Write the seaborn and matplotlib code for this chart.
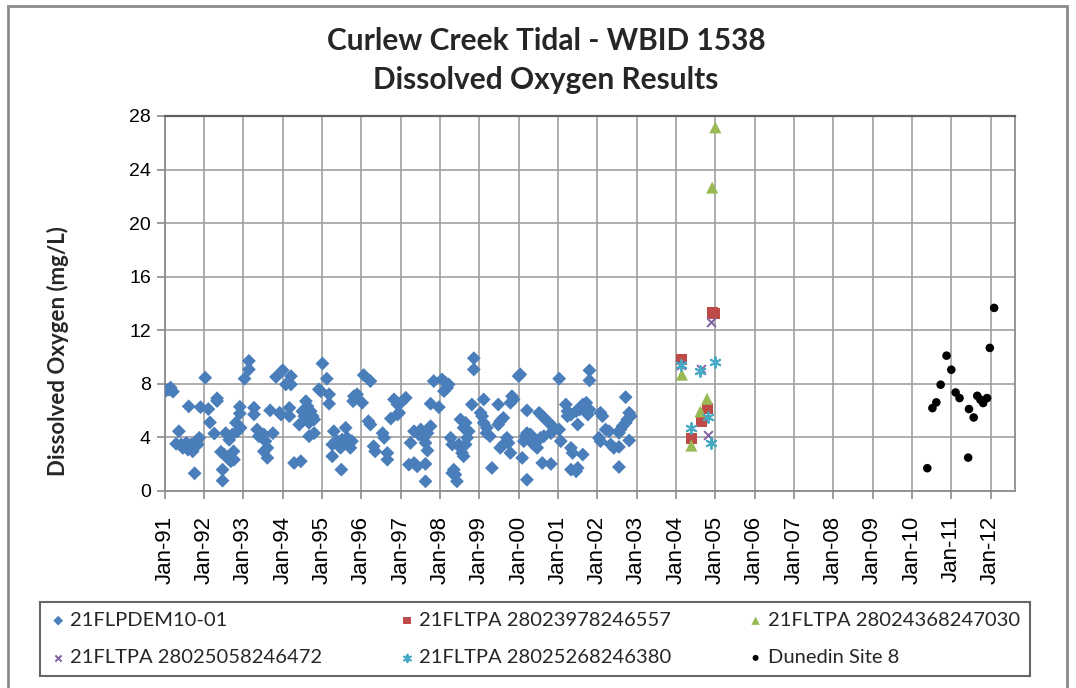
import matplotlib
matplotlib.use("Agg")
import matplotlib.pyplot as plt
import seaborn as sns
import pandas as pd
from matplotlib.patches import Rectangle

# ---------------- data ----------------
blue_year = [
    1991.04, 1991.10, 1991.15, 1991.21, 1991.29, 1991.36, 1991.42, 1991.46, 1991.55, 1991.59,
    1991.61, 1991.67, 1991.71, 1991.76, 1991.80, 1991.84, 1991.88, 1991.91,
    1992.03, 1992.11, 1992.15, 1992.26, 1992.33, 1992.33, 1992.43, 1992.47, 1992.47, 1992.51,
    1992.55, 1992.60, 1992.64, 1992.68, 1992.72, 1992.75, 1992.76, 1992.81, 1992.85, 1992.91,
    1992.91, 1992.93,
    1993.03, 1993.14, 1993.14, 1993.27, 1993.27, 1993.35, 1993.39, 1993.52, 1993.52, 1993.56,
    1993.61, 1993.61, 1993.68, 1993.75, 1993.83, 1993.92, 1993.96,
    1994.00, 1994.08, 1994.17, 1994.17, 1994.21, 1994.21, 1994.29, 1994.42, 1994.46, 1994.50,
    1994.55, 1994.59, 1994.63, 1994.67, 1994.67, 1994.71, 1994.76, 1994.80, 1994.80, 1994.92,
    1994.97,
    1995.01, 1995.12, 1995.18, 1995.18, 1995.26, 1995.26, 1995.30, 1995.39, 1995.47, 1995.49,
    1995.51, 1995.60, 1995.64, 1995.64, 1995.72, 1995.76, 1995.79, 1995.81, 1995.89,
    1996.02, 1996.06, 1996.18, 1996.23, 1996.23, 1996.31, 1996.35, 1996.54, 1996.58, 1996.66,
    1996.66, 1996.75, 1996.83, 1996.92, 1996.92, 1996.96,
    1997.00, 1997.13, 1997.21, 1997.25, 1997.34, 1997.34, 1997.42, 1997.46, 1997.51, 1997.59,
    1997.63, 1997.63, 1997.63, 1997.68, 1997.68, 1997.76, 1997.76, 1997.84, 1997.97,
    1998.05, 1998.10, 1998.14, 1998.18, 1998.22, 1998.27, 1998.31, 1998.31, 1998.35, 1998.39,
    1998.43, 1998.48, 1998.52, 1998.52, 1998.56, 1998.60, 1998.60, 1998.65, 1998.65, 1998.69,
    1998.73, 1998.81, 1998.86, 1998.86,
    1999.03, 1999.07, 1999.11, 1999.11, 1999.18, 1999.19, 1999.27, 1999.32, 1999.48, 1999.48,
    1999.53, 1999.53, 1999.61, 1999.61, 1999.70, 1999.74, 1999.79, 1999.79, 1999.83, 1999.87,
    2000.00, 2000.04, 2000.09, 2000.13, 2000.17, 2000.21, 2000.21, 2000.21, 2000.26, 2000.30,
    2000.34, 2000.43, 2000.47, 2000.47, 2000.52, 2000.56, 2000.60, 2000.60, 2000.64, 2000.69,
    2000.77, 2000.82, 2000.82, 2000.86, 2000.90,
    2001.03, 2001.03, 2001.07, 2001.20, 2001.24, 2001.24, 2001.33, 2001.33, 2001.33, 2001.37,
    2001.46, 2001.46, 2001.50, 2001.50, 2001.55, 2001.63, 2001.63, 2001.72, 2001.76, 2001.80,
    2001.80, 2001.80,
    2002.04, 2002.08, 2002.08, 2002.13, 2002.21, 2002.30, 2002.34, 2002.42, 2002.55, 2002.55,
    2002.55, 2002.59, 2002.64, 2002.72, 2002.72, 2002.76, 2002.81, 2002.81, 2002.85,
]
blue_do = [
    7.50, 7.55, 7.70, 7.40, 3.50, 4.44, 3.45, 3.20, 3.57, 3.07,
    6.30, 3.45, 2.94, 1.30, 3.70, 3.45, 3.95, 6.24,
    8.44, 6.10, 5.10, 4.27, 6.90, 6.70, 2.90, 1.57, 0.75, 2.70,
    4.30, 2.45, 3.80, 2.20, 4.20, 2.94, 2.32, 5.07, 4.44, 6.27,
    5.77, 4.70,
    8.37, 9.70, 9.06, 6.20, 5.70, 4.57, 4.07, 4.20, 2.94, 3.70,
    3.20, 2.45, 6.00, 4.30, 8.50, 5.82, 5.69,
    9.00, 7.94, 6.19, 5.57, 8.56, 7.94, 2.07, 4.94, 2.20, 5.94,
    5.57, 6.69, 6.31, 5.07, 4.07, 5.94, 5.57, 5.32, 4.30, 7.57,
    7.44,
    9.50, 8.37, 7.20, 6.50, 3.45, 2.57, 4.44, 3.70, 3.20, 1.57,
    3.82, 4.70, 3.95, 3.45, 3.20, 3.70, 6.69, 7.06, 7.20,
    6.57, 8.64, 5.19, 8.19, 4.94, 3.32, 2.94, 4.30, 3.95, 2.82,
    2.32, 5.39, 6.82, 6.44, 5.69, 5.82,
    6.57, 6.94, 1.95, 3.57, 4.44, 2.07, 1.82, 4.20, 4.57, 3.95,
    3.57, 2.00, 0.70, 4.30, 3.00, 4.82, 6.50, 8.19, 6.24,
    8.31, 7.44, 8.07, 7.69, 7.94, 3.95, 3.45, 1.32, 1.57, 1.20,
    0.70, 3.45, 5.32, 3.20, 2.82, 4.70, 2.57, 5.07, 3.45, 3.95,
    4.44, 6.44, 9.90, 9.06,
    5.82, 5.57, 6.82, 5.07, 4.30, 4.70, 4.07, 1.70, 6.44, 4.94,
    5.19, 3.20, 5.44, 3.45, 3.95, 3.57, 6.57, 2.82, 7.06, 6.82,
    8.56, 8.69, 2.45, 3.70, 4.07, 6.00, 4.30, 0.82, 3.82, 4.20,
    3.57, 3.32, 3.70, 3.20, 5.82, 3.95, 5.57, 2.07, 4.07, 5.32,
    5.07, 4.30, 2.00, 4.82, 4.57,
    8.37, 4.57, 3.70, 6.44, 5.94, 5.57, 5.69, 3.20, 1.57, 2.82,
    5.94, 1.45, 4.94, 1.70, 6.07, 6.44, 2.70, 6.57, 5.69, 6.07,
    8.99, 8.24,
    3.95, 5.82, 3.70, 5.57, 4.57, 4.44, 3.45, 3.20, 4.32, 3.27,
    1.77, 4.57, 4.82, 6.99, 5.07, 5.32, 5.82, 3.75, 5.57,
]

red_year = [2004.14, 2004.39, 2004.64, 2004.81, 2004.92, 2004.98]
red_do = [9.79, 3.92, 5.17, 6.17, 13.30, 13.25]

green_year = [2004.15, 2004.39, 2004.62, 2004.79, 2004.92, 2005.00]
green_do = [8.67, 3.37, 5.92, 6.87, 22.65, 27.15]

purple_year = [2004.14, 2004.64, 2004.81, 2004.90]
purple_do = [9.40, 9.09, 4.17, 12.58]

cyan_year = [2004.14, 2004.39, 2004.62, 2004.81, 2004.90, 2004.98]
cyan_do = [9.42, 4.67, 8.92, 5.50, 3.55, 9.62]

dunedin_year = [2010.39, 2010.52, 2010.62, 2010.73, 2010.88, 2011.00, 2011.11, 2011.21,
                2011.43, 2011.45, 2011.57, 2011.66, 2011.74, 2011.81, 2011.91, 2011.98, 2012.09]
dunedin_do = [1.68, 6.17, 6.60, 7.92, 10.09, 9.04, 7.34, 6.92,
              2.47, 6.10, 5.47, 7.09, 6.80, 6.55, 6.92, 10.67, 13.66]

series_names = ["21FLPDEM10-01", "21FLTPA 28023978246557", "21FLTPA 28024368247030",
                "21FLTPA 28025058246472", "21FLTPA 28025268246380", "Dunedin Site 8"]
tick_years = list(range(1991, 2013))
tick_labels = ["Jan-%02d" % (y % 100) for y in tick_years]
y_ticks = [0, 4, 8, 12, 16, 20, 24, 28]

title_line1 = "Curlew Creek Tidal - WBID 1538"
title_line2 = "Dissolved Oxygen Results"
y_label = "Dissolved Oxygen (mg/L)"

# ---------------- style ----------------
sns.set_theme(style="white")
plt.rcParams["font.family"] = ["Liberation Sans", "DejaVu Sans"]

fig = plt.figure(figsize=(10.76, 6.88), dpi=100)
fig.patch.set_facecolor("white")
ax = fig.add_axes([0.1531, 0.2868, 0.7902, 0.5446])

styles = [
    dict(marker="D", color="#4A7EBB", s=50, edgecolor="none"),
    dict(marker="s", color="#BE4B48", s=62, edgecolor="none"),
    dict(marker="^", color="#98B954", s=75, edgecolor="none"),
    dict(marker="x", color="#7D60A0", s=40, linewidth=1.4),
    dict(marker=(6, 2, 0), color="#46AAC5", s=60, linewidth=1.4),
    dict(marker="o", color="black", s=38, edgecolor="none"),
]
xs = [blue_year, red_year, green_year, purple_year, cyan_year, dunedin_year]
ys = [blue_do, red_do, green_do, purple_do, cyan_do, dunedin_do]

for name, x, y, st in zip(series_names, xs, ys, styles):
    df = pd.DataFrame({"date": x, "do": y})
    sns.scatterplot(data=df, x="date", y="do", ax=ax, label=name, zorder=3, **st)

ax.set_xlim(1991.0, 2012.62)
ax.set_ylim(0, 28)
ax.set_xticks(tick_years)
ax.set_xticklabels(tick_labels, rotation=90, fontsize=16)
ax.set_yticks(y_ticks)
ax.set_yticklabels([str(v) for v in y_ticks], fontsize=14)
ax.set_xlabel("")
ax.set_ylabel("")

ax.grid(True, color="#A0A0A0", linewidth=1.2)
ax.set_axisbelow(True)
for side, sp in ax.spines.items():
    sp.set_color("#8C8C8C")
    sp.set_linewidth(1.3)
ax.spines["top"].set_color("#606060")
ax.spines["top"].set_linewidth(1.6)
ax.tick_params(axis="both", which="both", direction="out", length=6, width=1.2,
               color="#8C8C8C", bottom=True, left=True, pad=4, labelcolor="black")
ax.tick_params(axis="x", pad=12)

# titles
fig.text(0.5074, 0.940, title_line1, ha="center", va="center", fontsize=21.5,
         fontweight="bold", family=["Lato", "DejaVu Sans"])
fig.text(0.5074, 0.884, title_line2, ha="center", va="center", fontsize=21.5,
         fontweight="bold", family=["Lato", "DejaVu Sans"])
fig.text(0.054, 0.49, y_label, ha="center", va="center", rotation=90, fontsize=16,
         fontweight="bold", family=["Lato", "DejaVu Sans"])

# legend
handles, labels = ax.get_legend_handles_labels()
if ax.get_legend():
    ax.get_legend().remove()
order = [0, 3, 1, 4, 2, 5]
leg = fig.legend([handles[i] for i in order], [labels[i] for i in order],
                 loc="center", bbox_to_anchor=(0.0279, 0.0116, 0.9386, 0.1192),
                 mode="expand", ncol=3, frameon=True, fancybox=False,
                 prop={"family": ["Lato", "DejaVu Sans"], "size": 14.5},
                 handletextpad=0.2, handlelength=0.8, borderpad=0.5,
                 labelspacing=1.0, markerscale=0.7)
leg.get_frame().set_edgecolor("#404040")
leg.get_frame().set_linewidth(1.5)

# outer chart border
fig.patches.append(Rectangle((0.0075, -0.02), 0.984, 1.012, transform=fig.transFigure,
                             fill=False, edgecolor="#8C8C8C", linewidth=2))

fig.savefig("out.png", dpi=100)
